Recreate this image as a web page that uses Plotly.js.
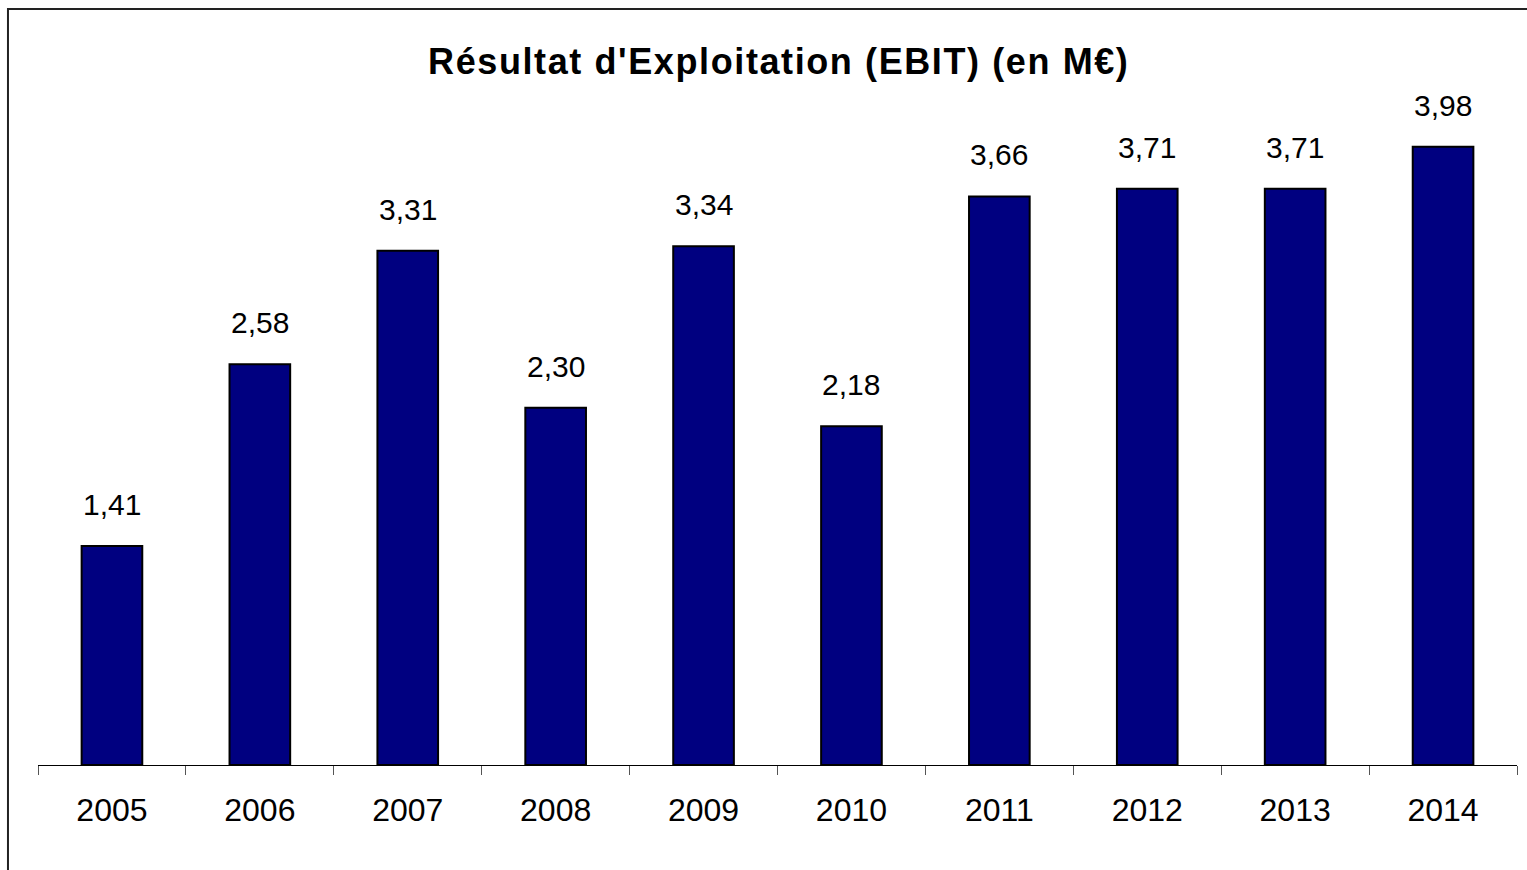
<!DOCTYPE html>
<html>
<head>
<meta charset="utf-8">
<script src="https://cdn.plot.ly/plotly-3.0.1.min.js"></script>
<style>html,body{margin:0;padding:0;background:#fff;}#chart{width:1527px;height:870px;}
.gtitle{letter-spacing:1.6px;}</style>
</head>
<body>
<div id="chart"></div>
<script>
const years = ["2005","2006","2007","2008","2009","2010","2011","2012","2013","2014"];
const ebit = [1.41, 2.58, 3.31, 2.30, 3.34, 2.18, 3.66, 3.71, 3.71, 3.98];
const labels = ["1,41","2,58","3,31","2,30","3,34","2,18","3,66","3,71","3,71","3,98"];
const chartTitle = "Résultat d'Exploitation (EBIT) (en M€)";

const font = "Liberation Sans, Arial, sans-serif";

const trace = {
  type: "bar",
  x: years,
  y: ebit,
  marker: {color: "#000080", line: {color: "#000000", width: 2}},
  hoverinfo: "x+y"
};

const annotations = years.map((yr, i) => ({
  x: i, y: ebit[i], xref: "x", yref: "y",
  text: labels[i], showarrow: false,
  yanchor: "bottom", yshift: 23,
  font: {family: font, size: 30, color: "#000"}
}));

const layout = {
  width: 1527, height: 870,
  margin: {l: 38, r: 10, t: 66, b: 105},
  paper_bgcolor: "#fff", plot_bgcolor: "#fff",
  showlegend: false,
  bargap: 0.59,
  title: {text: "<b>" + chartTitle + "</b>", x: 0.51, xanchor: "center", y: 0.929, yanchor: "middle",
          font: {family: font, size: 36, color: "#000"}},
  xaxis: {
    type: "category", range: [-0.5, years.length - 0.5],
    showline: true, linecolor: "#000", linewidth: 1,
    ticks: "outside", tickson: "boundaries", ticklen: 9, tickcolor: "#555", tickwidth: 1,
    ticklabelstandoff: 17, tickangle: 0,
    tickfont: {family: font, size: 32, color: "#000"},
    showgrid: false, zeroline: false
  },
  yaxis: {range: [0, 4.5], visible: false, showgrid: false, zeroline: false},
  annotations: annotations,
  shapes: [{
    type: "rect", xref: "paper", yref: "paper",
    x0: -0.0203, x1: 1.2, y0: -0.3, y1: 1.0815,
    line: {color: "#222", width: 2}, fillcolor: "rgba(0,0,0,0)", layer: "below"
  }]
};

Plotly.newPlot("chart", [trace], layout, {displayModeBar: false, staticPlot: true});
</script>
</body>
</html>
